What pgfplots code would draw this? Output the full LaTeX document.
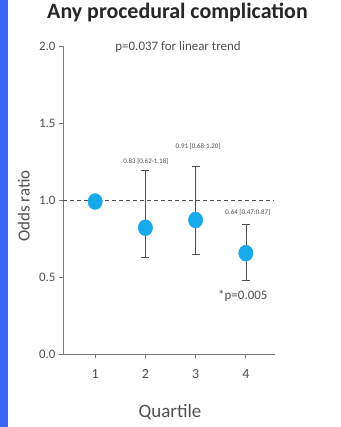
\documentclass[border=0pt]{standalone}
\usepackage{pgfplots}
\pgfplotsset{compat=1.18}
\usepackage{fontspec}
\setmainfont{Carlito}
\definecolor{pt}{RGB}{24,170,232}
\definecolor{strip}{RGB}{60,100,245}
\definecolor{ax}{RGB}{80,80,80}
\definecolor{axl}{RGB}{120,120,120}
\begin{document}
\begin{tikzpicture}
\useasboundingbox (0,0) rectangle (341bp,427bp);
\fill[white] (0,0) rectangle (341bp,427bp);
\fill[strip] (0,0) rectangle (8bp,427bp);
\begin{axis}[
  at={(63bp,73bp)}, anchor=south west,
  scale only axis, width=212bp, height=308bp,
  xmin=0.36, xmax=4.58, ymin=0, ymax=2,
  axis lines=left, axis line style={-, axl, line width=1pt},
  xtick={1,2,3,4}, ytick={0,0.5,1,1.5,2},
  yticklabel style={/pgf/number format/fixed, /pgf/number format/fixed zerofill, /pgf/number format/precision=1, font=\fontsize{13}{14}\selectfont, text=ax},
  xticklabel style={font=\fontsize{14}{15}\selectfont, text=ax, yshift=-8bp},
  /pgf/number format/assume math mode=true,
  tick style={axl, line width=0.8pt},
  tick align=outside, major tick length=4bp,
  clip=false,
  xlabel={Quartile}, ylabel={Odds ratio},
  xlabel style={at={(rel axis cs:0.505,-0.19)}, anchor=center, font=\fontsize{19}{20}\selectfont, text=ax},
  ylabel style={at={(rel axis cs:-0.185,0.48)}, anchor=center, rotate=0, font=\fontsize{17}{18}\selectfont, text=ax},
  title={\textbf{Any procedural complication}},
  title style={at={(rel axis cs:0.54,1.09)}, anchor=center, font=\fontsize{22}{23}\selectfont, text=black!85},
]
\addplot[ax, dashed, dash pattern=on 4bp off 3bp, line width=1pt] coordinates {(0.36,1) (4.55,1)};
\addplot[only marks, mark=*, mark options={fill=pt, draw=pt, xscale=0.9}, mark size=8bp,
  error bars/.cd, y dir=both, y explicit, error bar style={ax, line width=0.7pt}, error mark options={rotate=90, mark size=4bp, ax, line width=0.7pt}]
  coordinates {
  (1,0.99) +- (0,0)
  (2,0.82) += (0,0.37) -= (0,0.19)
  (3,0.87) += (0,0.35) -= (0,0.22)
  (4,0.655) += (0,0.19) -= (0,0.175)
  };
\node[font=\fontsize{13}{14}\selectfont, text=ax] at (axis cs:2.65,1.99) {p=0.037 for linear trend};
\node[font=\fontsize{7}{8}\selectfont, text=ax] at (axis cs:2.01,1.25) {0.83 [0.62-1.18]};
\node[font=\fontsize{7}{8}\selectfont, text=ax] at (axis cs:3.05,1.35) {0.91 [0.68:1.20]};
\node[font=\fontsize{7}{8}\selectfont, text=ax] at (axis cs:4.04,0.92) {0.64 [0.47:0.87]};
\node[font=\fontsize{13}{14}\selectfont, text=ax] at (axis cs:3.94,0.38) {*p=0.005};
\end{axis}
\end{tikzpicture}
\end{document}
